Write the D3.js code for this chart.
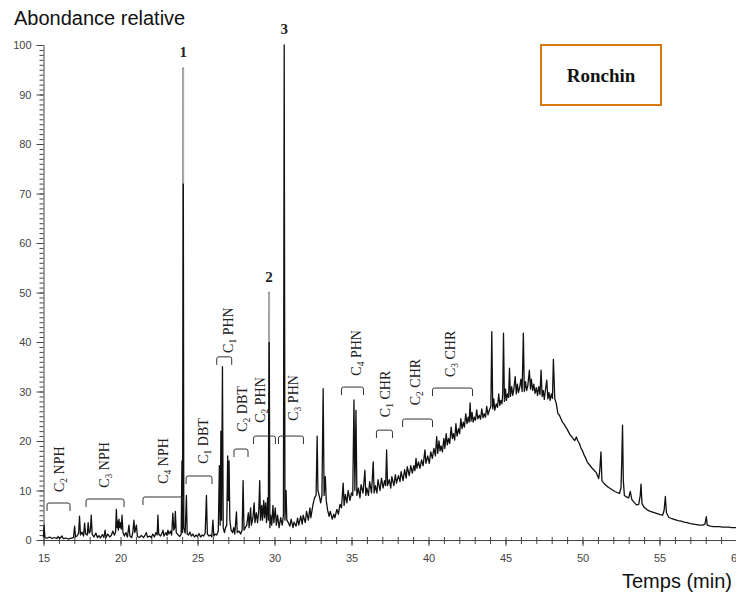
<!DOCTYPE html>
<html><head><meta charset="utf-8">
<script src="https://cdn.jsdelivr.net/npm/d3@7"></script>
<style>body{margin:0;background:#fff}svg{display:block}</style>
</head><body><svg id="c" width="736" height="594"></svg>
<script>
const xTicksMajor = [15,20,25,30,35,40,45,50,55,60];
const yTicksMajor = [0,10,20,30,40,50,60,70,80,90,100];
const yTitle = "Abondance relative";
const xTitle = "Temps (min)";
const sampleName = "Ronchin";

// [time (min), relative abundance]
const chromatogram = [
[15.0,0.6],[15.04,3.0],[15.09,0.5],[15.25,0.4],[15.4,0.6],[15.55,0.3],[15.7,0.5],[15.85,0.3],[15.95,0.7],[16.05,0.3],[16.2,0.8],[16.28,0.3],[16.45,0.4],[16.6,0.2],[16.8,0.4],[16.95,0.5],[17.02,2.8],[17.08,0.6],[17.2,0.9],[17.28,1.4],[17.34,4.8],[17.4,1.0],[17.5,1.6],[17.6,0.8],[17.67,3.4],[17.73,1.2],[17.84,1.0],[17.9,3.5],[17.96,1.4],[18.04,1.8],[18.1,5.0],[18.16,1.2],[18.28,0.6],[18.4,1.4],[18.5,0.5],[18.6,0.9],[18.7,0.4],[18.82,1.1],[18.92,0.5],[19.0,2.0],[19.06,0.5],[19.18,1.2],[19.3,0.6],[19.4,0.9],[19.5,1.8],[19.6,1.0],[19.68,1.5],[19.73,6.2],[19.78,2.5],[19.82,3.8],[19.86,2.0],[19.9,4.2],[19.95,2.5],[20.0,3.5],[20.05,2.2],[20.1,5.0],[20.16,1.5],[20.25,0.8],[20.35,1.5],[20.45,0.6],[20.55,3.0],[20.61,0.8],[20.72,0.5],[20.8,1.5],[20.87,4.0],[20.93,1.5],[21.03,3.0],[21.1,0.7],[21.22,0.5],[21.35,0.9],[21.5,0.5],[21.6,1.0],[21.68,1.5],[21.75,0.6],[21.9,0.8],[22.0,0.5],[22.1,1.2],[22.2,0.6],[22.3,1.5],[22.38,1.0],[22.43,5.0],[22.48,1.2],[22.6,0.8],[22.7,1.4],[22.76,2.0],[22.82,0.8],[22.95,1.5],[23.02,0.9],[23.08,2.0],[23.15,1.2],[23.25,1.8],[23.32,1.0],[23.4,5.4],[23.46,2.0],[23.52,2.5],[23.56,5.8],[23.62,1.5],[23.75,1.0],[23.85,0.7],[23.94,1.2],[23.99,16.0],[24.03,1.5],[24.07,95.3],[24.11,2.5],[24.2,1.4],[24.28,9.0],[24.33,1.2],
[24.42,1.0],[24.5,1.6],[24.6,0.8],[24.7,1.2],[24.8,0.6],[24.9,1.0],[25.0,0.7],[25.1,1.3],[25.2,0.6],[25.3,1.0],[25.4,0.8],[25.5,1.4],[25.58,9.0],[25.64,1.2],[25.75,0.8],[25.85,1.0],[25.93,0.6],[26.0,4.0],[26.06,0.8],[26.15,1.2],[26.25,1.0],[26.35,1.8],[26.42,15.0],[26.47,3.0],[26.52,22.0],[26.56,4.0],[26.62,35.0],[26.67,2.5],[26.75,1.5],[26.82,2.5],[26.9,3.0],[26.96,17.0],[27.0,8.0],[27.05,16.0],[27.1,4.0],[27.18,2.0],[27.28,1.5],[27.35,2.5],[27.42,1.2],[27.53,5.7],[27.58,1.5],[27.7,1.8],[27.8,1.2],[27.9,2.0],[27.96,12.0],[28.02,2.0],[28.1,2.5],
[28.2,3.0],[28.3,5.5],[28.35,2.5],[28.45,6.5],[28.5,3.0],[28.6,4.5],[28.68,7.5],[28.73,3.5],[28.82,5.5],[28.9,3.5],[28.98,6.0],[29.04,12.0],[29.09,4.0],[29.17,7.0],[29.22,4.0],[29.3,8.0],[29.35,4.5],[29.42,7.5],[29.48,3.5],[29.55,8.5],[29.6,4.0],[29.65,50.0],[29.7,2.5],[29.75,5.0],[29.82,3.0],[29.9,7.0],[29.96,3.5],[30.05,6.5],[30.12,3.0],[30.2,5.0],[30.3,2.5],[30.4,4.5],[30.5,3.0],[30.58,5.0],[30.63,100.0],[30.68,4.0],[30.75,10.0],[30.8,4.0],
[30.9,3.5],[31.0,2.8],[31.08,4.2],[31.2,2.5],[31.27,3.6],[31.4,2.8],[31.5,4.4],[31.58,3.0],[31.7,4.8],[31.8,3.2],[31.86,5.0],[32.0,3.5],[32.08,5.8],[32.2,4.0],[32.3,6.5],[32.36,4.5],[32.5,7.2],[32.6,8.5],[32.7,9.0],[32.77,21.0],[32.82,10.0],[32.9,9.0],[33.0,7.5],[33.08,9.0],[33.16,30.6],[33.22,9.0],[33.3,12.8],[33.36,8.0],[33.45,6.0],[33.55,4.8],[33.62,5.8],[33.75,4.2],[33.85,5.2],[33.92,4.5],[34.05,6.2],[34.15,5.2],[34.25,7.2],[34.35,6.5],[34.46,11.5],[34.52,7.0],[34.6,9.2],[34.7,7.5],[34.78,10.0],[34.9,8.0],[35.0,9.5],[35.08,9.0],[35.16,28.3],[35.22,10.0],[35.29,26.2],[35.35,9.0],[35.45,10.5],[35.55,8.5],[35.62,11.2],[35.75,9.5],[35.87,14.1],[35.93,9.0],[36.0,10.5],[36.1,9.0],[36.18,11.8],[36.3,9.5],[36.41,15.8],[36.47,9.5],[36.55,11.0],[36.65,9.5],[36.72,12.2],[36.85,10.0],[36.95,12.5],[37.05,10.5],[37.15,12.0],[37.22,11.0],[37.28,18.2],
[37.34,11.0],[37.45,12.2],[37.55,10.5],[37.62,12.8],[37.75,11.0],[37.85,13.2],[37.92,11.5],[38.05,13.0],[38.15,11.8],[38.22,13.8],[38.35,12.0],[38.45,14.2],[38.55,12.5],[38.62,14.8],[38.75,13.0],[38.85,15.0],[38.95,13.5],[39.05,15.0],[39.12,14.0],[39.19,16.5],[39.25,14.5],[39.35,15.8],[39.45,14.5],[39.55,16.2],[39.65,15.0],[39.77,18.2],[39.83,15.5],[39.95,17.0],[40.05,15.5],[40.15,17.8],[40.25,16.5],[40.35,18.5],[40.45,17.0],[40.53,20.9],
[40.6,17.5],[40.68,20.0],[40.75,18.0],[40.82,19.0],[40.9,17.8],[41.0,20.5],[41.06,18.5],[41.15,21.5],[41.22,19.2],[41.3,20.5],[41.38,19.5],[41.47,22.8],[41.55,20.5],[41.62,21.5],[41.7,20.2],[41.78,23.5],[41.85,21.0],[41.95,22.5],[42.02,21.5],[42.1,24.5],[42.18,22.5],[42.26,23.8],[42.33,22.8],[42.42,25.5],[42.5,23.5],[42.58,24.8],[42.64,23.8],[42.7,27.7],[42.76,24.0],[42.83,25.8],[42.9,23.8],[42.98,24.8],[43.05,24.2],[43.13,26.3],[43.2,24.5],[43.3,25.2],[43.38,24.4],[43.46,26.5],[43.54,24.7],[43.62,25.5],[43.7,24.8],[43.78,27.0],[43.86,25.3],[43.95,26.2],[44.05,27.0],[44.11,42.1],[44.17,26.5],[44.24,28.5],[44.3,26.2],[44.4,27.5],[44.48,26.8],[44.56,29.5],[44.63,27.2],[44.7,28.2],[44.77,27.5],[44.82,29.5],[44.87,41.8],[44.93,28.0],[45.0,30.5],[45.06,28.2],[45.13,29.5],[45.2,28.8],[45.26,34.7],[45.32,29.0],[45.4,31.0],[45.47,29.2],[45.54,30.5],[45.63,33.0],[45.7,29.5],[45.77,31.5],[45.84,29.8],[45.92,30.8],[46.0,32.5],[46.08,30.0],[46.16,41.8],[46.22,30.0],[46.3,32.0],[46.37,30.2],[46.45,31.2],[46.55,34.3],[46.62,30.5],[46.68,32.5],[46.76,30.2],[46.84,31.5],[46.92,29.6],[47.0,30.8],[47.08,29.2],[47.16,31.0],[47.24,29.4],[47.31,34.3],[47.38,29.0],[47.45,30.2],[47.52,28.4],[47.6,30.5],[47.68,32.3],[47.75,28.5],[47.82,29.8],[47.9,28.2],[47.98,29.5],[48.05,28.6],[48.11,36.5],[48.2,28.5],[48.29,27.7],
[48.4,25.6],[48.5,25.2],[48.6,24.5],[48.7,23.8],[48.8,23.4],[48.9,22.9],[49.0,22.4],[49.1,21.8],[49.2,21.2],[49.3,20.9],[49.4,20.4],[49.5,20.1],[49.6,20.8],[49.7,20.0],[49.8,19.5],[49.9,18.6],[50.0,18.0],[50.1,17.2],[50.2,16.6],[50.3,15.8],[50.45,15.2],[50.6,14.6],[50.75,14.1],[50.9,13.6],[51.05,12.4],[51.12,14.0],[51.2,17.8],[51.26,12.0],[51.35,11.6],[51.5,11.1],[51.65,10.7],[51.8,10.4],[51.95,10.1],[52.1,9.8],[52.25,9.6],[52.4,9.4],[52.5,10.5],[52.55,16.0],[52.6,23.2],[52.65,12.0],[52.72,9.0],[52.85,8.7],[53.0,8.5],[53.1,9.8],[53.2,8.2],[53.35,7.6],[53.5,7.1],[53.65,7.2],[53.75,9.0],[53.8,11.3],[53.86,7.4],[54.0,6.6],[54.2,6.1],[54.4,5.8],[54.6,5.6],[54.8,5.4],[55.0,5.2],[55.2,5.0],[55.3,6.0],[55.38,8.8],[55.45,5.5],[55.6,4.6],[55.8,4.3],[56.0,4.1],[56.2,3.9],[56.4,3.8],[56.6,3.6],[56.8,3.5],[57.0,3.3],[57.2,3.2],[57.4,3.1],[57.6,3.0],[57.8,3.0],[57.95,3.2],[58.04,4.7],[58.1,3.0],[58.3,2.8],[58.5,2.7],[58.7,2.7],[58.9,2.7],[59.1,2.6],[59.3,2.6],[59.5,2.6],[59.7,2.5],[60.0,2.5]
];

// compound groups: carbon number, family, elution window, bracket level, label anchor (t, v)
const groupCarbons = ["2","3","4","1","2","1","2","3","4","1","2","3"];
const groupFamilies = ["NPH","NPH","NPH","DBT","DBT","PHN","PHN","PHN","PHN","CHR","CHR","CHR"];
const groupWindows = [[15.23,16.72],[17.76,20.23],[21.46,24.06],[24.26,25.94],[27.37,28.28],[26.25,27.22],[28.64,30.06],[30.26,31.88],[34.35,35.78],[36.62,37.66],[38.32,40.26],[40.26,42.86]];
const groupBracketLevels = [7.47,8.28,8.69,12.93,18.38,37.0,21.0,21.0,30.9,22.2,24.44,30.7];
const groupLabelAnchors = [[16.07,14.3],[18.99,15.15],[22.76,15.96],[25.36,20.0],[27.89,26.46],[27.0,42.4],[29.09,28.28],[31.23,28.7],[35.32,37.8],[37.2,29.5],[39.15,31.9],[41.43,37.6]];

const peakIds = ["1","2","3"];
const peakTimes = [24.07,29.65,30.63];
const peakHeights = [95.3,50.0,100.0];
// upper part of the thin spikes rendered lighter: [time, from, to]
const lightSpikeTops = [[24.07,72,95.3],[29.65,40,50]];

const svg = d3.select("#c");
const x = d3.scaleLinear().domain([15,60]).range([43.5,736.5]);
const y = d3.scaleLinear().domain([0,100]).range([540,45]);

const sans = "'Liberation Sans', Arial, sans-serif";
const serif = "'Liberation Serif', 'Times New Roman', serif";

// axes
const gxMinor = svg.append("g").attr("transform","translate(0,537)")
  .call(d3.axisBottom(x).tickValues(d3.range(15,61,1)).tickSize(7).tickFormat("").tickSizeOuter(0));
gxMinor.select(".domain").remove();
const gx = svg.append("g").attr("transform","translate(0,540)")
  .call(d3.axisBottom(x).tickValues(xTicksMajor).tickSize(6).tickPadding(8).tickSizeOuter(0));
const gyMinor = svg.append("g").attr("transform",`translate(${x(15)},0)`)
  .call(d3.axisLeft(y).tickValues(d3.range(0,101,1)).tickSize(4).tickFormat("").tickSizeOuter(0));
gyMinor.select(".domain").remove();
const gy = svg.append("g").attr("transform",`translate(${x(15)},0)`)
  .call(d3.axisLeft(y).tickValues(yTicksMajor).tickSize(7).tickPadding(5).tickSizeOuter(0));

svg.selectAll(".domain, .tick line").attr("stroke","#444").attr("stroke-width",1);
svg.selectAll(".tick text").attr("fill","#444").style("font-family",sans).style("font-size","11px");

// trace
const line = d3.line().x(d=>x(d[0])).y(d=>y(d[1]));
svg.append("path").datum(chromatogram).attr("d",line)
  .attr("fill","none").attr("stroke","#111").attr("stroke-width",1.3).attr("stroke-linejoin","round");
svg.selectAll(".light").data(lightSpikeTops).enter().append("line")
  .attr("x1",d=>x(d[0])).attr("x2",d=>x(d[0])).attr("y1",d=>y(d[1])).attr("y2",d=>y(d[2]))
  .attr("stroke","#aaa").attr("stroke-width",2);

// peak labels
svg.selectAll(".pk").data(peakIds).enter().append("text")
  .attr("x",(d,i)=>x(peakTimes[i])).attr("y",(d,i)=>y(peakHeights[i])-11)
  .attr("text-anchor","middle").style("font-family",serif).style("font-size","15px").style("font-weight","bold")
  .attr("fill","#222").text(d=>d);

// compound groups
groupCarbons.forEach((c,i)=>{
  const bx1 = x(groupWindows[i][0]), bx2 = x(groupWindows[i][1]), by = y(groupBracketLevels[i]);
  svg.append("path")
    .attr("d",`M${bx1},${by+8} L${bx1},${by+2} Q${bx1},${by} ${bx1+2},${by} L${bx2-2},${by} Q${bx2},${by} ${bx2},${by+2} L${bx2},${by+8}`)
    .attr("fill","none").attr("stroke","#333").attr("stroke-width",1);
  const tx = x(groupLabelAnchors[i][0]) + 4.5, ty = y(groupLabelAnchors[i][1]);
  const t = svg.append("text").attr("transform",`translate(${tx},${ty}) rotate(-90)`)
    .attr("text-anchor","middle").style("font-family",serif).style("font-size","14px").attr("fill","#222");
  t.append("tspan").text("C");
  t.append("tspan").attr("dy",3).style("font-size","9.5px").text(c);
  t.append("tspan").attr("dy",-3).text(" " + groupFamilies[i]);
});

// titles
svg.append("text").attr("x",14).attr("y",25).style("font-family",sans).style("font-size","20px").attr("fill","#111").text(yTitle);
svg.append("text").attr("x",622).attr("y",588).style("font-family",sans).style("font-size","20px").attr("fill","#111").text(xTitle);

// sample box
svg.append("rect").attr("x",541).attr("y",45).attr("width",120).attr("height",60)
  .attr("fill","#fff").attr("stroke","#d9780f").attr("stroke-width",2);
svg.append("text").attr("x",601).attr("y",82).attr("text-anchor","middle")
  .style("font-family",serif).style("font-size","19px").style("font-weight","bold").attr("fill","#111").text(sampleName);
</script></body></html>
